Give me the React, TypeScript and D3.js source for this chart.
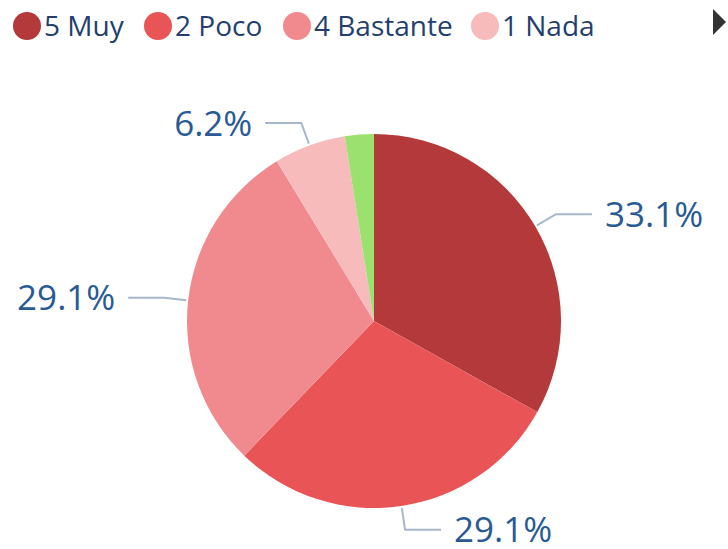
import React from "react";
import * as d3 from "d3";

const categories = ["5 Muy", "2 Poco", "4 Bastante", "1 Nada", "3 Algo"];
const values = [33.1, 29.1, 29.1, 6.2, 2.5];
const colors = ["#B3393A", "#E95556", "#F18A8E", "#F7BBBC", "#9AE16F"];
const showLabel = [true, true, true, true, false];
const legendCount = 4;

const W = 728;
const H = 549;
const cx = 374;
const cy = 321;
const R = 187;
const FONT = "'Segoe UI', 'Open Sans', sans-serif";

export default function App() {
  const pie = d3
    .pie<number>()
    .sort(null)
    .value((d) => d)
    .startAngle(0)
    .endAngle(2 * Math.PI);
  const arcs = pie(values);
  const arcGen = d3.arc<d3.PieArcDatum<number>>().innerRadius(0).outerRadius(R);

  const legendX = [27, 158, 297, 485];

  return (
    <div style={{ position: "absolute", left: 0, top: 0 }}>
      <svg width={W} height={H} style={{ display: "block", background: "#fff" }}>
        {/* legend */}
        {categories.slice(0, legendCount).map((c, i) => (
          <g key={c}>
            <circle cx={legendX[i]} cy={26} r={14} fill={colors[i]} />
            <text
              x={legendX[i] + 17}
              y={36}
              fontFamily={FONT}
              fontSize={28}
              fill="#243F6E"
            >
              {c}
            </text>
          </g>
        ))}
        <path d="M713,9 L726,22 L713,35 Z" fill="#333" />
        <g transform={`translate(${cx},${cy})`}>
          {arcs.map((a, i) => (
            <path key={i} d={arcGen(a) || ""} fill={colors[i]} />
          ))}
          {arcs.map((a, i) => {
            if (!showLabel[i]) return null;
            const mid = (a.startAngle + a.endAngle) / 2;
            const sx = Math.sin(mid);
            const sy = -Math.cos(mid);
            const p0 = [sx * (R + 2), sy * (R + 2)];
            const p1 = [sx * (R + 24), sy * (R + 24)];
            const dir = sx >= 0 ? 1 : -1;
            const p2 = [p1[0] + dir * 36, p1[1]];
            const tx = p2[0] + dir * 13;
            return (
              <g key={"l" + i}>
                <polyline
                  points={`${p0[0]},${p0[1]} ${p1[0]},${p1[1]} ${p2[0]},${p2[1]}`}
                  fill="none"
                  stroke="#A7B7CB"
                  strokeWidth={2}
                />
                <text
                  x={tx}
                  y={p1[1]}
                  dy="0.36em"
                  textAnchor={dir > 0 ? "start" : "end"}
                  fontFamily={FONT}
                  fontSize={35}
                  fill="#295A94"
                >
                  {values[i].toFixed(1) + "%"}
                </text>
              </g>
            );
          })}
        </g>
      </svg>
    </div>
  );
}
